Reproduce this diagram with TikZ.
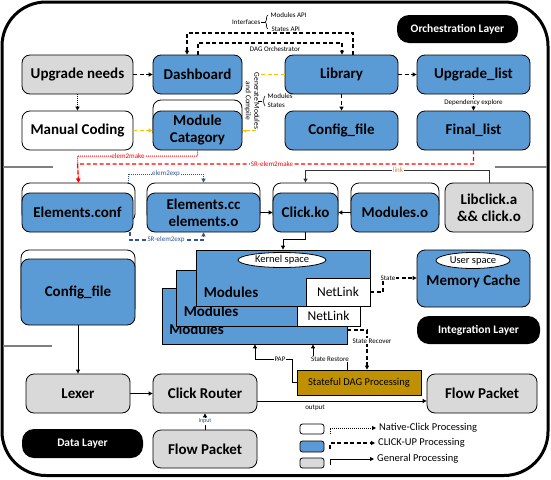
\documentclass[tikz,border=0pt]{standalone}
\usepackage{fontspec}
\setmainfont{Carlito}
\usetikzlibrary{arrows.meta,decorations.pathreplacing,shapes.geometric}
\definecolor{cblue}{HTML}{5B9BD5}
\definecolor{cgray}{HTML}{D9D9D9}
\definecolor{cgold}{HTML}{BF9000}
\definecolor{cyel}{HTML}{FFC000}
\definecolor{cred}{HTML}{FF0000}
\definecolor{cdblue}{HTML}{2F5597}
\definecolor{corange}{HTML}{ED7D31}
\definecolor{csep}{HTML}{7F7F7F}
\newcommand{\myfBig}{\fontsize{15}{17}\selectfont\bfseries}
\newcommand{\myfLay}{\fontsize{11.5}{13}\selectfont\bfseries}
\newcommand{\myfSm}{\fontsize{7}{8}\selectfont}
\newcommand{\myfMid}{\fontsize{10.5}{12}\selectfont}
\newcommand{\myfNet}{\fontsize{13.5}{15}\selectfont}
\begin{document}
\begin{tikzpicture}[x=1pt,y=-1pt,>={Triangle[length=4pt,width=4pt]},
  box/.style={draw=black,line width=0.8pt,rounded corners=8pt,inner sep=0pt,align=center,font=\myfBig},
  bb/.style={box,fill=cblue},
  gb/.style={box,fill=cgray},
  wb/.style={box,fill=white},
  sq/.style={draw=black,line width=0.8pt,fill=cblue,inner sep=0pt},
  lay/.style={fill=black,rounded corners=12pt,text=white,font=\myfLay,inner sep=0pt},
  dsh/.style={line width=1.1pt,dash pattern=on 4pt off 2.5pt},
  dot/.style={line width=1pt,dash pattern=on 1pt off 1pt},
  sol/.style={line width=0.9pt},
  lbl/.style={font=\myfSm,fill=white,inner sep=0.6pt},
  tag/.style={font=\myfSm,inner sep=0.5pt}]
\useasboundingbox (0,0) rectangle (551,479);
% frame and separators
\draw[line width=3pt,rounded corners=44pt] (2,2) rectangle (548,475.5);
\draw[csep,line width=1.5pt] (3,167) -- (53,167);
\draw[csep,line width=1.5pt] (495,167) -- (547,167);
\draw[csep,line width=1.5pt] (3,346) -- (52,346);
% layer labels
\node[lay,minimum width=121pt,minimum height=28pt] (orch) at (457.5,29) {Orchestration Layer};
\node[lay,minimum width=123pt,minimum height=28pt] (integ) at (478.5,330) {Integration Layer};
\node[lay,minimum width=121pt,minimum height=29pt] (datal) at (82.5,443.5) {Data Layer};
% row 1
\node[gb,minimum width=111pt,minimum height=39pt] (up) at (77.5,74.5) {Upgrade needs};
\node[bb,minimum width=89pt,minimum height=39pt] (dash) at (197.5,74.5) {Dashboard};
\node[bb,minimum width=113pt,minimum height=39pt] (lib) at (341.5,74.5) {Library};
\node[bb,minimum width=113pt,minimum height=39pt] (uplist) at (473.5,74.5) {Upgrade\_list};
% row 2
\node[wb,minimum width=111pt,minimum height=39pt] (manual) at (77.5,130.5) {Manual Coding};
\node[wb,minimum width=89pt,minimum height=40pt] (modcatg) at (197.5,120) {};
\node[bb,minimum width=89pt,minimum height=39pt] (modcat) at (197.5,130.5) {Module\\Catagory};
\node[bb,minimum width=113pt,minimum height=39pt] (cfg) at (341.5,130.5) {Config\_file};
\node[bb,minimum width=113pt,minimum height=39pt] (final) at (473.5,130.5) {Final\_list};
% row 3
\node[wb,minimum width=113pt,minimum height=39pt] (econfg) at (78.5,202.5) {};
\node[bb,minimum width=111pt,minimum height=39pt] (econf) at (77.5,212.5) {Elements.conf};
\node[wb,minimum width=113pt,minimum height=39pt] (eccg) at (203.5,202.5) {};
\node[bb,minimum width=113pt,minimum height=39pt] (ecc) at (203.5,212.5) {Elements.cc\\elements.o};
\node[wb,minimum width=65pt,minimum height=39pt] (clickkog) at (305.5,202.5) {};
\node[bb,minimum width=65pt,minimum height=39pt] (clickko) at (305.5,212.5) {Click.ko};
\node[wb,minimum width=88pt,minimum height=39pt] (modog) at (395,202.5) {};
\node[bb,minimum width=88pt,minimum height=39pt] (modo) at (395,212.5) {Modules.o};
\node[gb,minimum width=88pt,minimum height=49pt] (libclick) at (489,207.5) {Libclick.a\\\&\& click.o};
% left config file
\node[wb,minimum width=114pt,minimum height=66pt] (cfg2g) at (78,283) {};
\node[bb,minimum width=114pt,minimum height=66pt] (cfg2) at (78,292) {Config\_file};
% module stack
\node[sq,minimum width=185pt,minimum height=56pt] (back) at (254.5,316) {};
\node[font=\myfBig] (backlbl) at (196.5,329.5) {Modules};
\node[sq,minimum width=184pt,minimum height=56pt] (middle) at (268,298) {};
\node[draw=black,line width=0.8pt,fill=white,minimum width=63pt,minimum height=28pt,inner sep=0pt] (netm) at (328.5,312) {};
\node[font=\myfNet] (netmlbl) at (328.5,315.5) {NetLink};
\node[font=\myfBig] (midlbl) at (211,311) {Modules};
\node[sq,minimum width=174pt,minimum height=56pt] (front) at (283,278) {};
\node[draw=black,line width=0.8pt,fill=white,minimum width=64pt,minimum height=28pt,inner sep=0pt,font=\myfNet] (netf) at (338,292) {NetLink};
\node[font=\myfBig] (frontlbl) at (231,292) {Modules};
\node[ellipse,draw=black,line width=0.8pt,fill=white,minimum width=88pt,minimum height=15pt,inner sep=0pt,font=\myfMid] (kern) at (282,260) {Kernel space};
% memory cache
\node[bb,minimum width=113pt,minimum height=57pt] (memc) at (473.5,278.5) {};
\node[font=\myfBig] (memlbl) at (473.5,281) {Memory Cache};
\node[ellipse,draw=black,line width=0.8pt,fill=white,minimum width=74pt,minimum height=16pt,inner sep=0pt,font=\myfMid] (user) at (473,260.5) {User space};
% data layer
\node[gb,minimum width=104pt,minimum height=39pt] (lexer) at (78,393.5) {Lexer};
\node[gb,minimum width=104pt,minimum height=39pt] (crouter) at (205,393.5) {Click Router};
\node[gb,minimum width=104pt,minimum height=38pt] (fpin) at (205,449) {Flow Packet};
\node[draw=black,line width=0.8pt,fill=cgold,minimum width=124pt,minimum height=25pt,inner sep=0pt,font=\myfMid] (dag) at (359,382.5) {Stateful DAG Processing};
\node[gb,minimum width=110pt,minimum height=39pt] (fpout) at (482,393.5) {Flow Packet};
% legend
\node[box,fill=white,rounded corners=2.5pt,minimum width=24pt,minimum height=10pt] (lgw) at (312,429) {};
\node[box,fill=cblue,rounded corners=2.5pt,minimum width=24pt,minimum height=11pt] (lgb) at (312,446.5) {};
\node[box,fill=cgray,rounded corners=2.5pt,minimum width=24pt,minimum height=10pt] (lgg) at (312,463) {};
\node[anchor=west,font=\myfMid,inner sep=3pt] (legA) at (376,428) {Native-Click Processing};
\node[anchor=west,font=\myfMid,inner sep=3pt] (legB) at (375,443) {CLICK-UP Processing};
\node[anchor=west,font=\myfMid,inner sep=3pt] (legC) at (374,459) {General Processing};
\coordinate (la) at (330,434);
\coordinate (lb) at (330,449);
\coordinate (lc) at (330,465);
\draw[dot,->] (la) |- (legA.west);
\draw[dsh,->] (lb) |- (legB.west);
\draw[sol,->] (lc) |- (legC.west);
% orchestration connectors
\draw[dsh,->] (up) -- (dash);
\draw[dot,->] (up) -- (manual);
\draw[dsh,->] (lib) -- (uplist);
\draw[dsh,->] (lib) -- (cfg);
\draw[dot,->,line width=0.7pt] (uplist) -- (final) node[midway,lbl] {Dependency explore};
\coordinate (o1) at (353,33); \coordinate (o2) at (187,33);
\draw[dsh,->] (lib.north -| o1) -- (o1) -- (o2) -- (dash.north -| o2);
\coordinate (i1) at (198,43); \coordinate (i2) at (342,43);
\draw[dsh,->] (dash.north -| i1) -- (i1) -- (i2) -- (lib.north -| i2);
\node[tag] (dago) at (275,49) {DAG Orchestrator};
\node[tag,anchor=east] (intf) at (261,22) {Interfaces};
\coordinate (ib) at (265,22);
\draw[line width=0.6pt] (intf.east) -- (ib);
\draw[line width=0.6pt,decorate,decoration={brace,amplitude=3pt}] (268,29) -- (268,15);
\node[tag,anchor=west] (mapi) at (270,15) {Modules API};
\node[tag,anchor=west] (sapi) at (271,29) {States API};
\coordinate (y1) at (258,74.5); \coordinate (y2) at (258,130.5);
\draw[dsh,cyel,->] (lib.west) -- (y1) -- (y2) -- (modcat.east);
\node[lbl,rotate=-90,align=center,font=\fontsize{7.5}{8.5}\selectfont] (gen) at (252,101) {Generate Modules\\and Compile};
\coordinate (ms) at (262,101);
\draw[line width=0.6pt] (y1 |- ms) -- (ms);
\draw[line width=0.6pt,decorate,decoration={brace,amplitude=2pt}] (265,106) -- (265,96);
\node[tag,anchor=west] (msm) at (267,96.5) {Modules};
\node[tag,anchor=west] (mss) at (267,105.5) {States};
\draw[dsh,cyel,->] (manual) -- (modcat);
% integration connectors
\coordinate (r1) at (77.5,156);
\draw[dot,cred,->] (modcat.south) |- (r1) -- (econfg.north);
\node[lbl,text=cred] (e2m) at (128,156) {elem2make};
\coordinate (r2) at (77.5,164);
\draw[dsh,cred,->] (final.south) |- (r2) -- (econfg.north);
\node[lbl,text=cred] (sre2m) at (272,164) {SR-elem2make};
\coordinate (k1) at (305.5,170);
\draw[sol,black!80,->] (libclick.north) |- (k1) -- (clickkog.north);
\node[lbl,text=corange] (lnk) at (398,170) {link};
\coordinate (b1) at (128,174); \coordinate (b2) at (203.5,174);
\draw[dot,cdblue,->] (econfg.north -| b1) -- (b1) -- (b2) -- (eccg.north);
\node[lbl,text=cdblue] (e2e) at (166,174) {elem2exp};
\coordinate (b3) at (130,240); \coordinate (b4) at (203.5,240);
\draw[dsh,cdblue,->] (econf.south -| b3) -- (b3) -- (b4) -- (ecc.south);
\node[lbl,text=cdblue] (sre2e) at (166,240) {SR-elem2exp};
\draw[sol,->] (ecc) -- (clickko);
\draw[sol,->] (modo) -- (clickko);
\coordinate (c1) at (283,239);
\draw[sol,->] (clickko.south) |- (c1) -- (front.north);
\coordinate (t1) at (383,292); \coordinate (t2) at (383,278);
\draw[dsh,->] (netf.east) -- (t1) -- (t2) -- (memc.west |- t2);
\node[lbl] (stl) at (388,278) {State};
\coordinate (v1) at (367,330);
\draw[dsh,->] (back.east |- v1) -- (v1) -- (dag.north -| v1);
\node[lbl] (srec) at (372,341) {State Recover};
\coordinate (p1) at (292,382.5); \coordinate (p2) at (292,359); \coordinate (p3) at (255,359);
\draw[sol,->] (dag.west) -- (p1) -- (p2) -- (p3) -- (back.south -| p3);
\node[lbl] (pap) at (280,359) {PAP};
\coordinate (s1) at (347,359); \coordinate (s2) at (313,359);
\draw[sol,->] (dag.north -| s1) -- (s1) -- (s2) -- (back.south -| s2);
\node[lbl] (srest) at (330,359) {State Restore};
% data connectors
\draw[sol,->] (cfg2) -- (lexer);
\draw[sol,->] (lexer) -- (crouter);
\draw[sol,->] (fpin) -- (crouter) node[midway,lbl,text=cdblue,font=\fontsize{6}{7}\selectfont] {Input};
\coordinate (oy) at (0,401);
\draw[sol,->] (crouter.east |- oy) -- (fpout.west |- oy);
\node[tag] (outl) at (315,408) {output};
\end{tikzpicture}
\end{document}
